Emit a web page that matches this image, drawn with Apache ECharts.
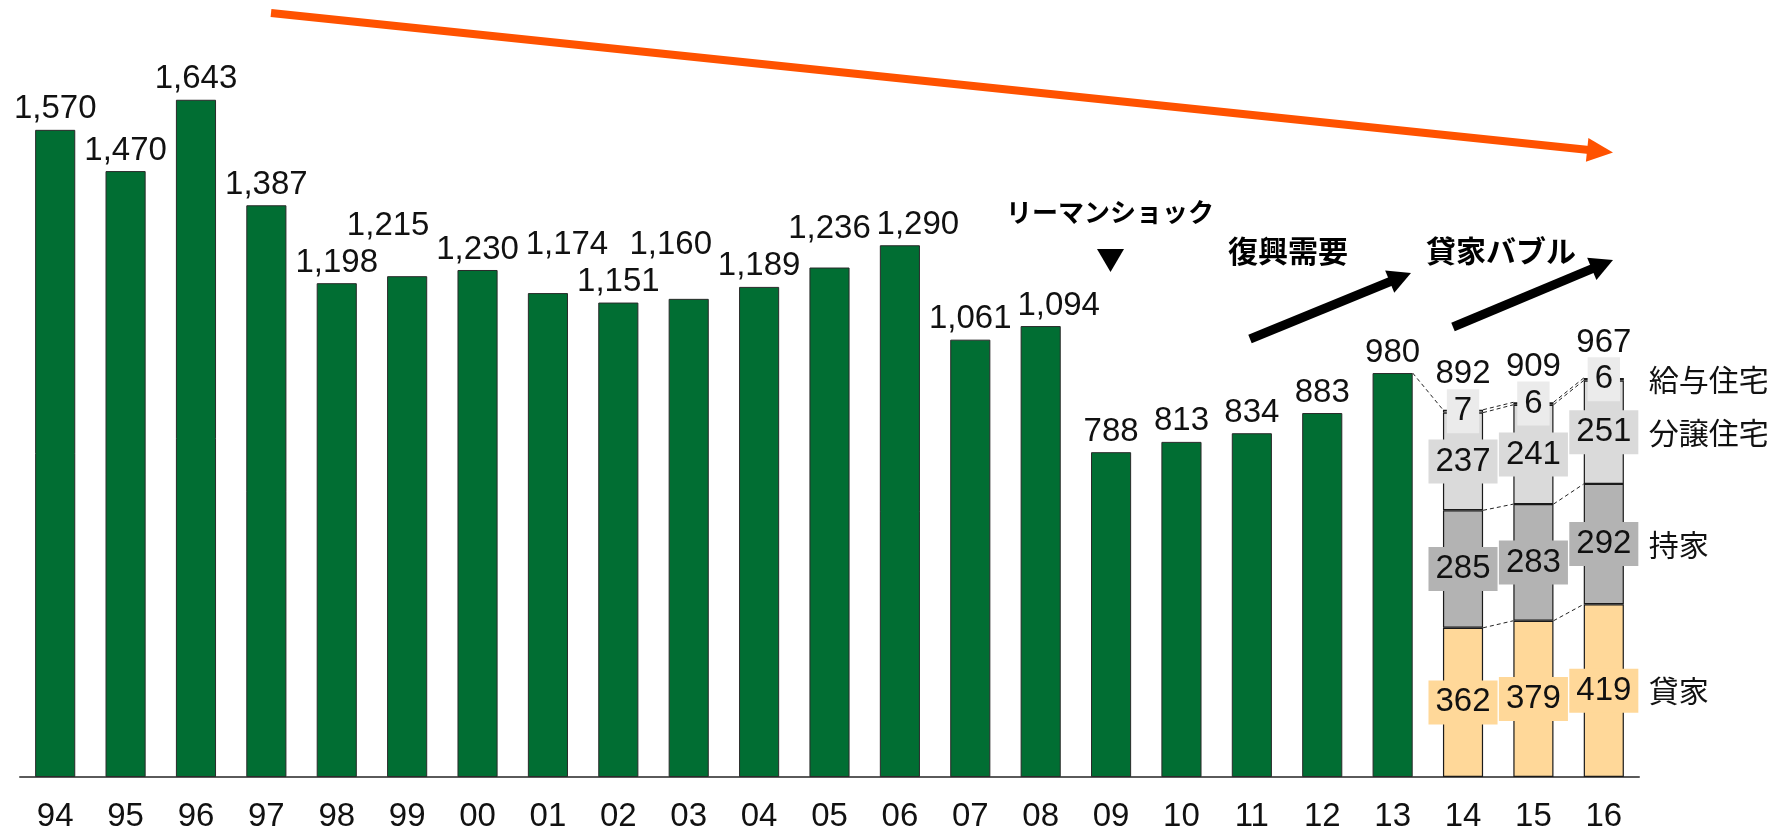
<!DOCTYPE html>
<html>
<head>
<meta charset="utf-8">
<script src="https://cdn.jsdelivr.net/npm/echarts@6/dist/echarts.min.js"></script>
<style>
html,body{margin:0;padding:0;background:#fff;}
#main{width:1792px;height:828px;}
</style>
</head>
<body>
<div id="main"></div>
<script>
// ---- data ----
const years = ['94','95','96','97','98','99','00','01','02','03','04','05','06','07','08','09','10','11','12','13','14','15','16'];
const starts = [1570,1470,1643,1387,1198,1215,1230,1174,1151,1160,1189,1236,1290,1061,1094,788,813,834,883,980];
const breakdownYears = ['14','15','16'];
const rental = [362,379,419];      // 貸家
const owner = [285,283,292];       // 持家
const condo = [237,241,251];       // 分譲住宅
const employee = [7,6,6];          // 給与住宅
const breakdownTotals = [892,909,967];
const seriesNames = ['貸家','持家','分譲住宅','給与住宅'];

// ---- styling / layout (not data) ----
const labelNudge = {'99':[-19,-30],'01':[19,-28],'03':[-18,-33],'05':[0,-18],'06':[18,0],'08':[18,0]};
const segColors = ['#FFD899','#B3B3B3','#DADADA','#EEEEEE'];
const labelBg = ['#FFD899','#B3B3B3','#DADADA','#EBEBEB'];
const numFont = '"Liberation Sans", Arial, sans-serif';
const cjkFont = '"Noto Sans CJK JP", sans-serif';
const numSize = 33;

const nGreen = starts.length;
const pad = years.length - breakdownYears.length;

const greenData = years.map((y, i) => {
  if (i >= nGreen) return '-';
  const n = labelNudge[y];
  return n ? {value: starts[i], label: {offset: n}} : starts[i];
});
const padArr = arr => Array(pad).fill('-').concat(arr);

const stacks = [rental, owner, condo, employee];
const cum = breakdownYears.map((_, j) => {
  let s = 0; return stacks.map(a => (s += a[j]));
});

const connectors = [[nGreen - 1, starts[nGreen - 1], pad, cum[0][3]]];
for (let j = 0; j < breakdownYears.length - 1; j++) {
  for (let k = 0; k < stacks.length; k++) {
    connectors.push([pad + j, cum[j][k], pad + j + 1, cum[j + 1][k]]);
  }
}

const lastJ = breakdownYears.length - 1;
const stackSeries = stacks.map((arr, k) => {
  const base = k === 0 ? 0 : cum[lastJ][k - 1];
  return {
    name: seriesNames[k], type: 'bar', stack: 'h', barGap: '-100%', barCategoryGap: '43%',
    data: padArr(arr),
    itemStyle: {color: segColors[k], borderColor: '#1a1a1a', borderWidth: 1.2},
    label: {
      show: true, position: 'inside', fontSize: numSize, fontFamily: numFont, color: '#111',
      backgroundColor: labelBg[k], padding: [4, 7], lineHeight: 36
    },
    markPoint: {
      symbol: 'circle', symbolSize: 0, silent: true,
      data: [{coord: [breakdownYears[lastJ], base + arr[lastJ] / 2], value: seriesNames[k]}],
      label: {show: true, position: 'right', distance: 45, formatter: seriesNames[k],
        fontSize: 30, fontFamily: cjkFont, color: '#111'}
    }
  };
});

function arrow(tail, tip, color, width, headLen, headHalf) {
  const dx = tip[0] - tail[0], dy = tip[1] - tail[1];
  const L = Math.hypot(dx, dy), ux = dx / L, uy = dy / L;
  const bx = tip[0] - ux * headLen, by = tip[1] - uy * headLen;
  return [
    {type: 'line', shape: {x1: tail[0], y1: tail[1], x2: bx + ux * 2, y2: by + uy * 2},
      style: {stroke: color, lineWidth: width}, z: 100},
    {type: 'polygon', shape: {points: [tip, [bx - uy * headHalf, by + ux * headHalf], [bx + uy * headHalf, by - ux * headHalf]]},
      style: {fill: color}, z: 100}
  ];
}

const chart = echarts.init(document.getElementById('main'));
const option = {
  animation: false,
  backgroundColor: '#fff',
  grid: {left: 20, right: 153, top: 0, bottom: 51, containLabel: false, outerBoundsMode: 'none'},
  xAxis: {
    type: 'category', data: years,
    axisLine: {lineStyle: {color: '#5a5a5a', width: 2}},
    axisTick: {show: false},
    axisLabel: {fontSize: numSize, fontFamily: numFont, color: '#111', margin: 23, interval: 0}
  },
  yAxis: {type: 'value', min: 0, max: 1885, show: false, splitLine: {show: false}},
  series: [
    {
      name: 'total', type: 'bar', barGap: '-100%', barCategoryGap: '43%',
      data: greenData,
      itemStyle: {color: '#016E33', borderColor: '#2a2a2a', borderWidth: 1},
      label: {show: true, position: 'top', distance: 4, fontSize: numSize, fontFamily: numFont, color: '#111',
        formatter: p => p.value.toLocaleString('en-US')}
    },
    ...stackSeries,
    {
      name: 'sum', type: 'bar', barGap: '-100%', barCategoryGap: '43%',
      data: padArr(breakdownTotals),
      itemStyle: {color: 'rgba(0,0,0,0)'}, z: 1,
      label: {show: true, position: 'top', distance: 19, fontSize: numSize, fontFamily: numFont, color: '#111'}
    },
    {
      type: 'custom', silent: true, z: 5,
      encode: {x: [0, 2], y: [1, 3]},
      data: connectors,
      renderItem: (params, api) => {
        const p0 = api.coord([api.value(0), api.value(1)]);
        const p1 = api.coord([api.value(2), api.value(3)]);
        const half = api.size([1, 0])[0] * 0.57 / 2;
        return {type: 'line', shape: {x1: p0[0] + half, y1: p0[1], x2: p1[0] - half, y2: p1[1]},
          style: {stroke: '#222', lineWidth: 1, lineDash: [4, 3]}};
      }
    }
  ],
  graphic: [
    ...arrow([271, 13], [1613, 152.5], '#FF5200', 8, 26, 12),
    ...arrow([1250, 339], [1411, 273], '#000', 9, 23, 12),
    ...arrow([1453, 327], [1613, 260], '#000', 9, 23, 12),
    {type: 'text', z: 100, style: {text: 'リーマンショック', x: 1110, y: 212, align: 'center', verticalAlign: 'middle',
      textAlign: 'center', textVerticalAlign: 'middle', font: 'bold 26px "Noto Sans CJK JP", sans-serif', fill: '#000'}},
    {type: 'polygon', z: 100, shape: {points: [[1097, 249], [1124, 249], [1110.5, 272]]}, style: {fill: '#000'}},
    {type: 'text', z: 100, style: {text: '復興需要', x: 1288, y: 251, align: 'center', verticalAlign: 'middle',
      textAlign: 'center', textVerticalAlign: 'middle', font: 'bold 30px "Noto Sans CJK JP", sans-serif', fill: '#000'}},
    {type: 'text', z: 100, style: {text: '貸家バブル', x: 1501, y: 251, align: 'center', verticalAlign: 'middle',
      textAlign: 'center', textVerticalAlign: 'middle', font: 'bold 30px "Noto Sans CJK JP", sans-serif', fill: '#000'}}
  ]
};
chart.setOption(option);
</script>
</body>
</html>
